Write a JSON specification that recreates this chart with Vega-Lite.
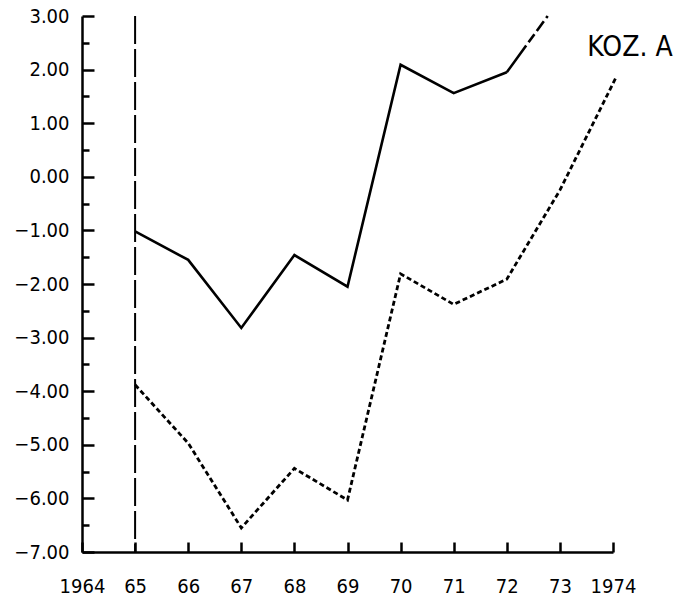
{
  "$schema": "https://vega.github.io/schema/vega-lite/v6.json",
  "width": 531,
  "height": 536,
  "autosize": {"type": "none"},
  "padding": {"left": 82, "top": 16, "right": 79, "bottom": 53},
  "background": "white",
  "config": {
    "view": {"stroke": null},
    "axis": {
      "grid": false,
      "labelFont": "DejaVu Sans Condensed, Roboto, sans-serif",
      "labelFontSize": 20,
      "labelColor": "black",
      "domainColor": "black",
      "domainWidth": 2.5,
      "tickColor": "black",
      "tickWidth": 2.5,
      "title": null
    }
  },
  "resolve": {"axis": {"y": "independent"}},
  "datasets": {
    "solid": [
      {"year": 1965, "value": -1.02},
      {"year": 1966, "value": -1.55},
      {"year": 1967, "value": -2.82},
      {"year": 1968, "value": -1.46},
      {"year": 1969, "value": -2.05},
      {"year": 1970, "value": 2.09},
      {"year": 1971, "value": 1.56},
      {"year": 1972, "value": 1.95}
    ],
    "ext": [
      {"year": 1972, "value": 1.95},
      {"year": 1972.77, "value": 3.0}
    ],
    "dotted": [
      {"year": 1965, "value": -3.88},
      {"year": 1966, "value": -4.97},
      {"year": 1967, "value": -6.55},
      {"year": 1968, "value": -5.44},
      {"year": 1969, "value": -6.03},
      {"year": 1970, "value": -1.81},
      {"year": 1971, "value": -2.38},
      {"year": 1972, "value": -1.91},
      {"year": 1973, "value": -0.25},
      {"year": 1974.05, "value": 1.84}
    ],
    "vline": [{"year": 1965}],
    "label": [{"year": 1974.32, "value": 2.4, "text": "KOZ. A"}]
  },
  "layer": [
    {
      "data": {"name": "solid"},
      "mark": {"type": "line", "color": "black", "strokeWidth": 2.6},
      "encoding": {
        "x": {
          "field": "year",
          "type": "quantitative",
          "scale": {"domain": [1964, 1974], "nice": false, "zero": false},
          "axis": {
            "values": [1964, 1965, 1966, 1967, 1968, 1969, 1970, 1971, 1972, 1973, 1974],
            "labelExpr": "datum.value === 1964 || datum.value === 1974 ? '' + datum.value : substring('' + datum.value, 2, 4)",
            "tickSize": -10,
            "labelPadding": 34,
            "labelFlush": false,
            "labelOverlap": false
          }
        },
        "y": {
          "field": "value",
          "type": "quantitative",
          "scale": {"domain": [-7, 3], "nice": false, "zero": false},
          "axis": {
            "orient": "left",
            "values": [-7, -6, -5, -4, -3, -2, -1, 0, 1, 2, 3],
            "format": ".2f",
            "tickSize": -12,
            "labelPadding": 25,
            "labelFlush": false,
            "labelOverlap": false
          }
        }
      }
    },
    {
      "data": {"name": "ext"},
      "mark": {"type": "line", "color": "black", "strokeWidth": 2.6, "strokeDash": [33, 4, 10, 4, 12, 4]},
      "encoding": {
        "x": {"field": "year", "type": "quantitative"},
        "y": {
          "field": "value",
          "type": "quantitative",
          "axis": {
            "orient": "left",
            "values": [-6.5, -5.5, -4.5, -3.5, -2.5, -1.5, -0.5, 0.5, 1.5, 2.5],
            "labels": false,
            "domain": false,
            "tickSize": -7,
            "offset": 0
          }
        }
      }
    },
    {
      "data": {"name": "dotted"},
      "mark": {"type": "line", "color": "black", "strokeWidth": 2.8, "strokeDash": [5, 3]},
      "encoding": {
        "x": {"field": "year", "type": "quantitative"},
        "y": {"field": "value", "type": "quantitative", "axis": null}
      }
    },
    {
      "data": {"name": "vline"},
      "mark": {"type": "rule", "color": "black", "strokeWidth": 2, "strokeDash": [28, 5]},
      "encoding": {
        "x": {"field": "year", "type": "quantitative"}
      }
    },
    {
      "data": {"name": "label"},
      "mark": {"type": "text", "font": "DejaVu Sans Condensed, Roboto, sans-serif", "fontSize": 28, "color": "black", "align": "center", "baseline": "middle"},
      "encoding": {
        "x": {"field": "year", "type": "quantitative"},
        "y": {"field": "value", "type": "quantitative", "axis": null},
        "text": {"field": "text"}
      }
    }
  ]
}
